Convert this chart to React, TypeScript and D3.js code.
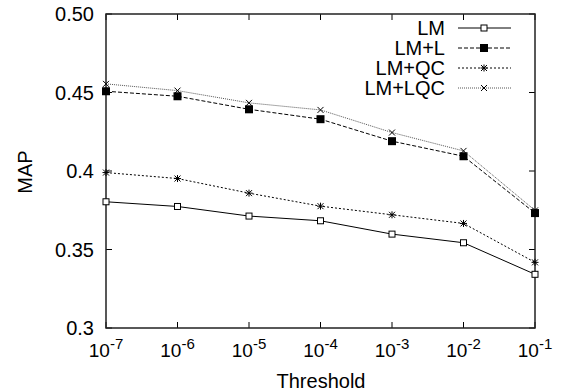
import React from "react";
import * as d3 from "d3";

const exponents = [-7, -6, -5, -4, -3, -2, -1];
const yTicks = [0.3, 0.35, 0.4, 0.45, 0.5];
const yTickLabels = ["0.3", "0.35", "0.4", "0.45", "0.50"];
const seriesNames = ["LM", "LM+L", "LM+QC", "LM+LQC"];
const lmValues = [0.3804, 0.3774, 0.3713, 0.3683, 0.3598, 0.3543, 0.3342];
const lmlValues = [0.4508, 0.4476, 0.4393, 0.433, 0.419, 0.4094, 0.3732];
const lmqcValues = [0.399, 0.3952, 0.3859, 0.3776, 0.3721, 0.3666, 0.3418];
const lmlqcValues = [0.4555, 0.4512, 0.4434, 0.4389, 0.4245, 0.4128, 0.3749];

const W = 569, H = 392;
const L = 106, R = 535, T = 14, B = 328;
const FONT = "'Liberation Sans', Arial, Helvetica, sans-serif";

const styles = [
  { dash: "none", color: "#000", marker: "openSquare" },
  { dash: "4,2", color: "#000", marker: "filledSquare" },
  { dash: "2,2", color: "#000", marker: "star" },
  { dash: "1,1", color: "#555", marker: "cross" },
];

function Marker({ x, y, type }: { x: number; y: number; type: string }) {
  if (type === "openSquare")
    return <rect x={x - 3} y={y - 3} width={6} height={6} fill="#fff" stroke="#000" strokeWidth={1} />;
  if (type === "filledSquare")
    return <rect x={x - 4} y={y - 4} width={8} height={8} fill="#000" />;
  if (type === "star")
    return (
      <g stroke="#000" strokeWidth={1}>
        <line x1={x - 3} y1={y - 3} x2={x + 3} y2={y + 3} />
        <line x1={x - 3} y1={y + 3} x2={x + 3} y2={y - 3} />
        <line x1={x - 3.5} y1={y} x2={x + 3.5} y2={y} />
        <line x1={x} y1={y - 3.5} x2={x} y2={y + 3.5} />
      </g>
    );
  return (
    <g stroke="#000" strokeWidth={1}>
      <line x1={x - 3} y1={y - 3} x2={x + 3} y2={y + 3} />
      <line x1={x - 3} y1={y + 3} x2={x + 3} y2={y - 3} />
    </g>
  );
}

export default function App() {
  const x = d3.scaleLog().domain([1e-7, 1e-1]).range([L, R]);
  const y = d3.scaleLinear().domain([0.3, 0.5]).range([B, T]);
  const xs = exponents.map((e) => Math.pow(10, e));
  const all = [lmValues, lmlValues, lmqcValues, lmlqcValues];
  const line = d3
    .line<number>()
    .x((_, i) => x(xs[i]))
    .y((d) => y(d));
  const legendY = [28, 48, 68, 88];
  return (
    <svg width={W} height={H} style={{ position: "absolute", left: 0, top: 0, background: "#fff" }} fontFamily={FONT}>
      <rect width={W} height={H} fill="#fff" />
      {xs.map((v, i) => (
        <g key={"xt" + i}>
          <line x1={x(v)} x2={x(v)} y1={B} y2={B - 6} stroke="#000" />
          <line x1={x(v)} x2={x(v)} y1={T} y2={T + 6} stroke="#000" />
          <text x={x(v)} y={357} textAnchor="middle" fontSize={19}>
            10
            <tspan fontSize={15} dy={-8}>{String(exponents[i])}</tspan>
          </text>
        </g>
      ))}
      {yTicks.map((v, i) => (
        <g key={"yt" + i}>
          <line x1={L} x2={L + 6} y1={y(v)} y2={y(v)} stroke="#000" />
          <line x1={R} x2={R - 6} y1={y(v)} y2={y(v)} stroke="#000" />
          <text x={94} y={y(v) + 7} textAnchor="end" fontSize={20}>
            {yTickLabels[i]}
          </text>
        </g>
      ))}
      <rect x={L} y={T} width={R - L} height={B - T} fill="none" stroke="#222" strokeWidth={1.5} />
      {all.map((vals, s) => (
        <g key={"s" + s}>
          <path d={line(vals) || ""} fill="none" stroke={styles[s].color} strokeWidth={1} strokeDasharray={styles[s].dash} />
          {vals.map((v, i) => (
            <Marker key={i} x={x(xs[i])} y={y(v)} type={styles[s].marker} />
          ))}
        </g>
      ))}
      {seriesNames.map((n, s) => (
        <g key={"l" + s}>
          <text x={445} y={legendY[s] + 7} textAnchor="end" fontSize={20}>
            {n}
          </text>
          <line x1={458} x2={511} y1={legendY[s]} y2={legendY[s]} stroke={styles[s].color} strokeWidth={1} strokeDasharray={styles[s].dash} />
          <Marker x={484} y={legendY[s]} type={styles[s].marker} />
        </g>
      ))}
      <text x={321} y={388} textAnchor="middle" fontSize={20}>
        Threshold
      </text>
      <text transform="translate(32,172) rotate(-90)" textAnchor="middle" fontSize={20}>
        MAP
      </text>
    </svg>
  );
}
